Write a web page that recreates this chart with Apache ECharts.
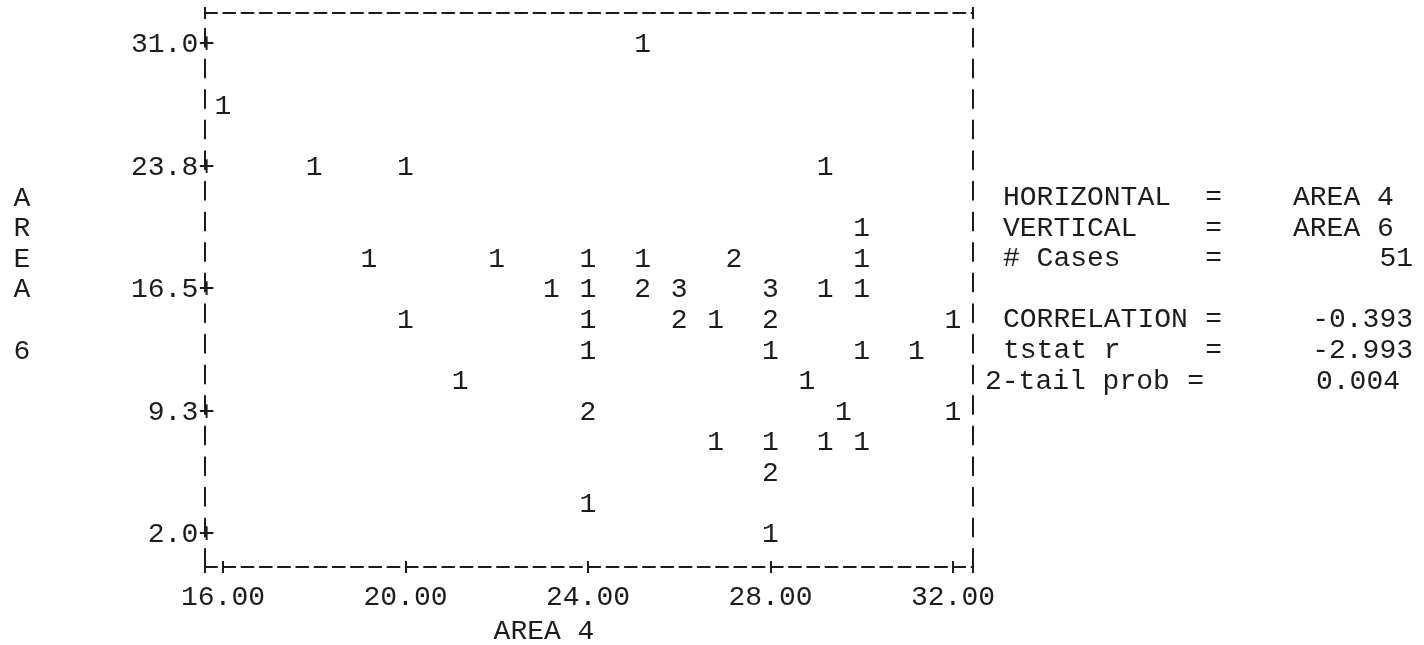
<!DOCTYPE html>
<html>
<head>
<meta charset="utf-8">
<title>AREA 6 by AREA 4</title>
<script src="https://cdn.jsdelivr.net/npm/echarts@6.0.0/dist/echarts.min.js"></script>
<style>
  html, body { margin: 0; padding: 0; background: #fff; }
  #main { width: 1424px; height: 645px; }
</style>
</head>
<body>
<div id="main"></div>
<script>
// print positions of the plot: AREA 4 (horizontal), AREA 6 (vertical), cases at that spot
var area4 = [
  25.2,
  16.0,
  18.0, 20.0, 29.2,
  30.0,
  19.2, 22.0, 24.0, 25.2, 27.2, 30.0,
  23.2, 24.0, 25.2, 26.0, 28.0, 29.2, 30.0,
  20.0, 24.0, 26.0, 26.8, 28.0, 32.0,
  24.0, 28.0, 30.0, 31.2,
  21.2, 28.8,
  24.0, 29.6, 32.0,
  26.8, 28.0, 29.2, 30.0,
  28.0,
  24.0,
  28.0
];
var area6 = [
  31.0,
  27.38,
  23.75, 23.75, 23.75,
  20.13,
  18.31, 18.31, 18.31, 18.31, 18.31, 18.31,
  16.5, 16.5, 16.5, 16.5, 16.5, 16.5, 16.5,
  14.69, 14.69, 14.69, 14.69, 14.69, 14.69,
  12.88, 12.88, 12.88, 12.88,
  11.06, 11.06,
  9.25, 9.25, 9.25,
  7.44, 7.44, 7.44, 7.44,
  5.63,
  3.81,
  2.0
];
var caseCounts = [
  1,
  1,
  1, 1, 1,
  1,
  1, 1, 1, 1, 2, 1,
  1, 1, 2, 3, 3, 1, 1,
  1, 1, 2, 1, 2, 1,
  1, 1, 1, 1,
  1, 1,
  2, 1, 1,
  1, 1, 1, 1,
  2,
  1,
  1
];

var xTickValues = [16, 20, 24, 28, 32];
var xTickLabels = ['16.00', '20.00', '24.00', '28.00', '32.00'];
var yTickValues = [2, 9.25, 16.5, 23.75, 31];
var yTickLabels = ['2.0', '9.3', '16.5', '23.8', '31.0'];

var statNames = ['HORIZONTAL', 'VERTICAL', '# Cases', 'CORRELATION', 'tstat r', '2-tail prob'];
var statValues = ['AREA 4', 'AREA 6', '51', '-0.393', '-2.993', '0.004'];

var MONO = '"Liberation Mono", "DejaVu Sans Mono", monospace';
var INK = '#1c1c1c';
var FS = 28;

// frame limits (one print column / row outside the tick marks)
var X_MIN = 15.605, X_MAX = 32.438;
var Y_MIN = 0.106, Y_MAX = 32.894;
var dashH = [12, 6.25];
var dashV = [18, 12.6];
var frameTicks = [X_MIN].concat(xTickValues, [X_MAX]);

var chart = echarts.init(document.getElementById('main'));

// text block at the right of the frame
var statRowsY = [198, 229, 259, 320, 351, 382];
var statNameX = [1003, 1003, 1003, 1003, 1003, 985];
var statEqX = [1222, 1222, 1222, 1222, 1222, 1204];
var statValueX = [1293, 1293, 1413, 1413, 1413, 1400];
var statValueAlign = ['left', 'left', 'right', 'right', 'right', 'right'];
var graphics = [];
function monoText(x, y, text, align) {
    return {
        type: 'text', x: x, y: y, silent: true,
        style: {text: text, font: FS + 'px ' + MONO, fill: INK, align: align, verticalAlign: 'middle'}
    };
}
statNames.forEach(function (name, i) {
    graphics.push(monoText(statNameX[i], statRowsY[i], name, 'left'));
    graphics.push(monoText(statEqX[i], statRowsY[i], '=', 'right'));
    graphics.push(monoText(statValueX[i], statRowsY[i], statValues[i], statValueAlign[i]));
});

chart.setOption({
    backgroundColor: '#fff',
    animation: false,
    grid: {left: 205, right: 451, top: 13, bottom: 78, outerBoundsMode: 'none'},
    xAxis: [
        {
            type: 'value', position: 'bottom', min: X_MIN, max: X_MAX,
            axisLine: {show: true, lineStyle: {color: INK, width: 2, type: dashH}},
            axisTick: {show: true, length: 6, customValues: frameTicks, lineStyle: {color: INK, width: 2}},
            axisLabel: {
                show: true, customValues: xTickValues, margin: 16,
                fontFamily: MONO, fontSize: FS, color: INK, lineHeight: 30,
                formatter: function (v) { return xTickLabels[xTickValues.indexOf(v)]; }
            },
            splitLine: {show: false},
            name: 'AREA 4', nameLocation: 'middle', nameGap: 63,
            nameTextStyle: {fontFamily: MONO, fontSize: FS, color: INK, align: 'center', verticalAlign: 'middle', padding: [0, 90, 0, 0]}
        },
        {
            type: 'value', position: 'bottom', min: X_MIN, max: X_MAX,
            axisLine: {show: false},
            axisTick: {show: true, inside: true, length: 6, customValues: frameTicks, lineStyle: {color: INK, width: 2}},
            axisLabel: {show: false}, splitLine: {show: false}
        },
        {
            type: 'value', position: 'top', min: X_MIN, max: X_MAX,
            axisLine: {show: true, lineStyle: {color: INK, width: 2, type: dashH}},
            axisTick: {show: true, length: 6, customValues: [X_MIN, X_MAX], lineStyle: {color: INK, width: 2}},
            axisLabel: {show: false}, splitLine: {show: false}
        },
        {
            type: 'value', position: 'top', min: X_MIN, max: X_MAX,
            axisLine: {show: false},
            axisTick: {show: true, inside: true, length: 6, customValues: [X_MIN, X_MAX], lineStyle: {color: INK, width: 2}},
            axisLabel: {show: false}, splitLine: {show: false}
        }
    ],
    yAxis: [
        {
            type: 'value', position: 'left', min: Y_MIN, max: Y_MAX,
            axisLine: {show: true, lineStyle: {color: INK, width: 2, type: dashV}},
            axisTick: {show: false},
            axisLabel: {
                show: true, customValues: yTickValues, margin: -10,
                fontFamily: MONO, fontSize: FS, color: INK,
                formatter: function (v) { return yTickLabels[yTickValues.indexOf(v)] + '+'; }
            },
            splitLine: {show: false},
            // trailing blank line lifts the stacked letters by half a row
            name: 'A\nR\nE\nA\n\n6\n ', nameLocation: 'middle', nameRotate: 0, nameGap: 183,
            nameTextStyle: {fontFamily: MONO, fontSize: FS, color: INK, lineHeight: 30.6, align: 'center', verticalAlign: 'middle'}
        },
        {
            type: 'value', position: 'right', min: Y_MIN, max: Y_MAX,
            axisLine: {show: true, lineStyle: {color: INK, width: 2, type: dashV}},
            axisTick: {show: false}, axisLabel: {show: false}, splitLine: {show: false}
        }
    ],
    graphic: graphics,
    series: [{
        type: 'scatter',
        xAxisIndex: 0, yAxisIndex: 0,
        silent: true,
        symbolSize: 1,
        itemStyle: {color: 'rgba(0,0,0,0)', opacity: 1},
        data: area4.map(function (x, i) { return [x, area6[i], caseCounts[i]]; }),
        label: {
            show: true, position: 'inside',
            fontFamily: MONO, fontSize: FS, color: INK,
            formatter: function (p) { return String(p.value[2]); }
        }
    }]
});
</script>
</body>
</html>
